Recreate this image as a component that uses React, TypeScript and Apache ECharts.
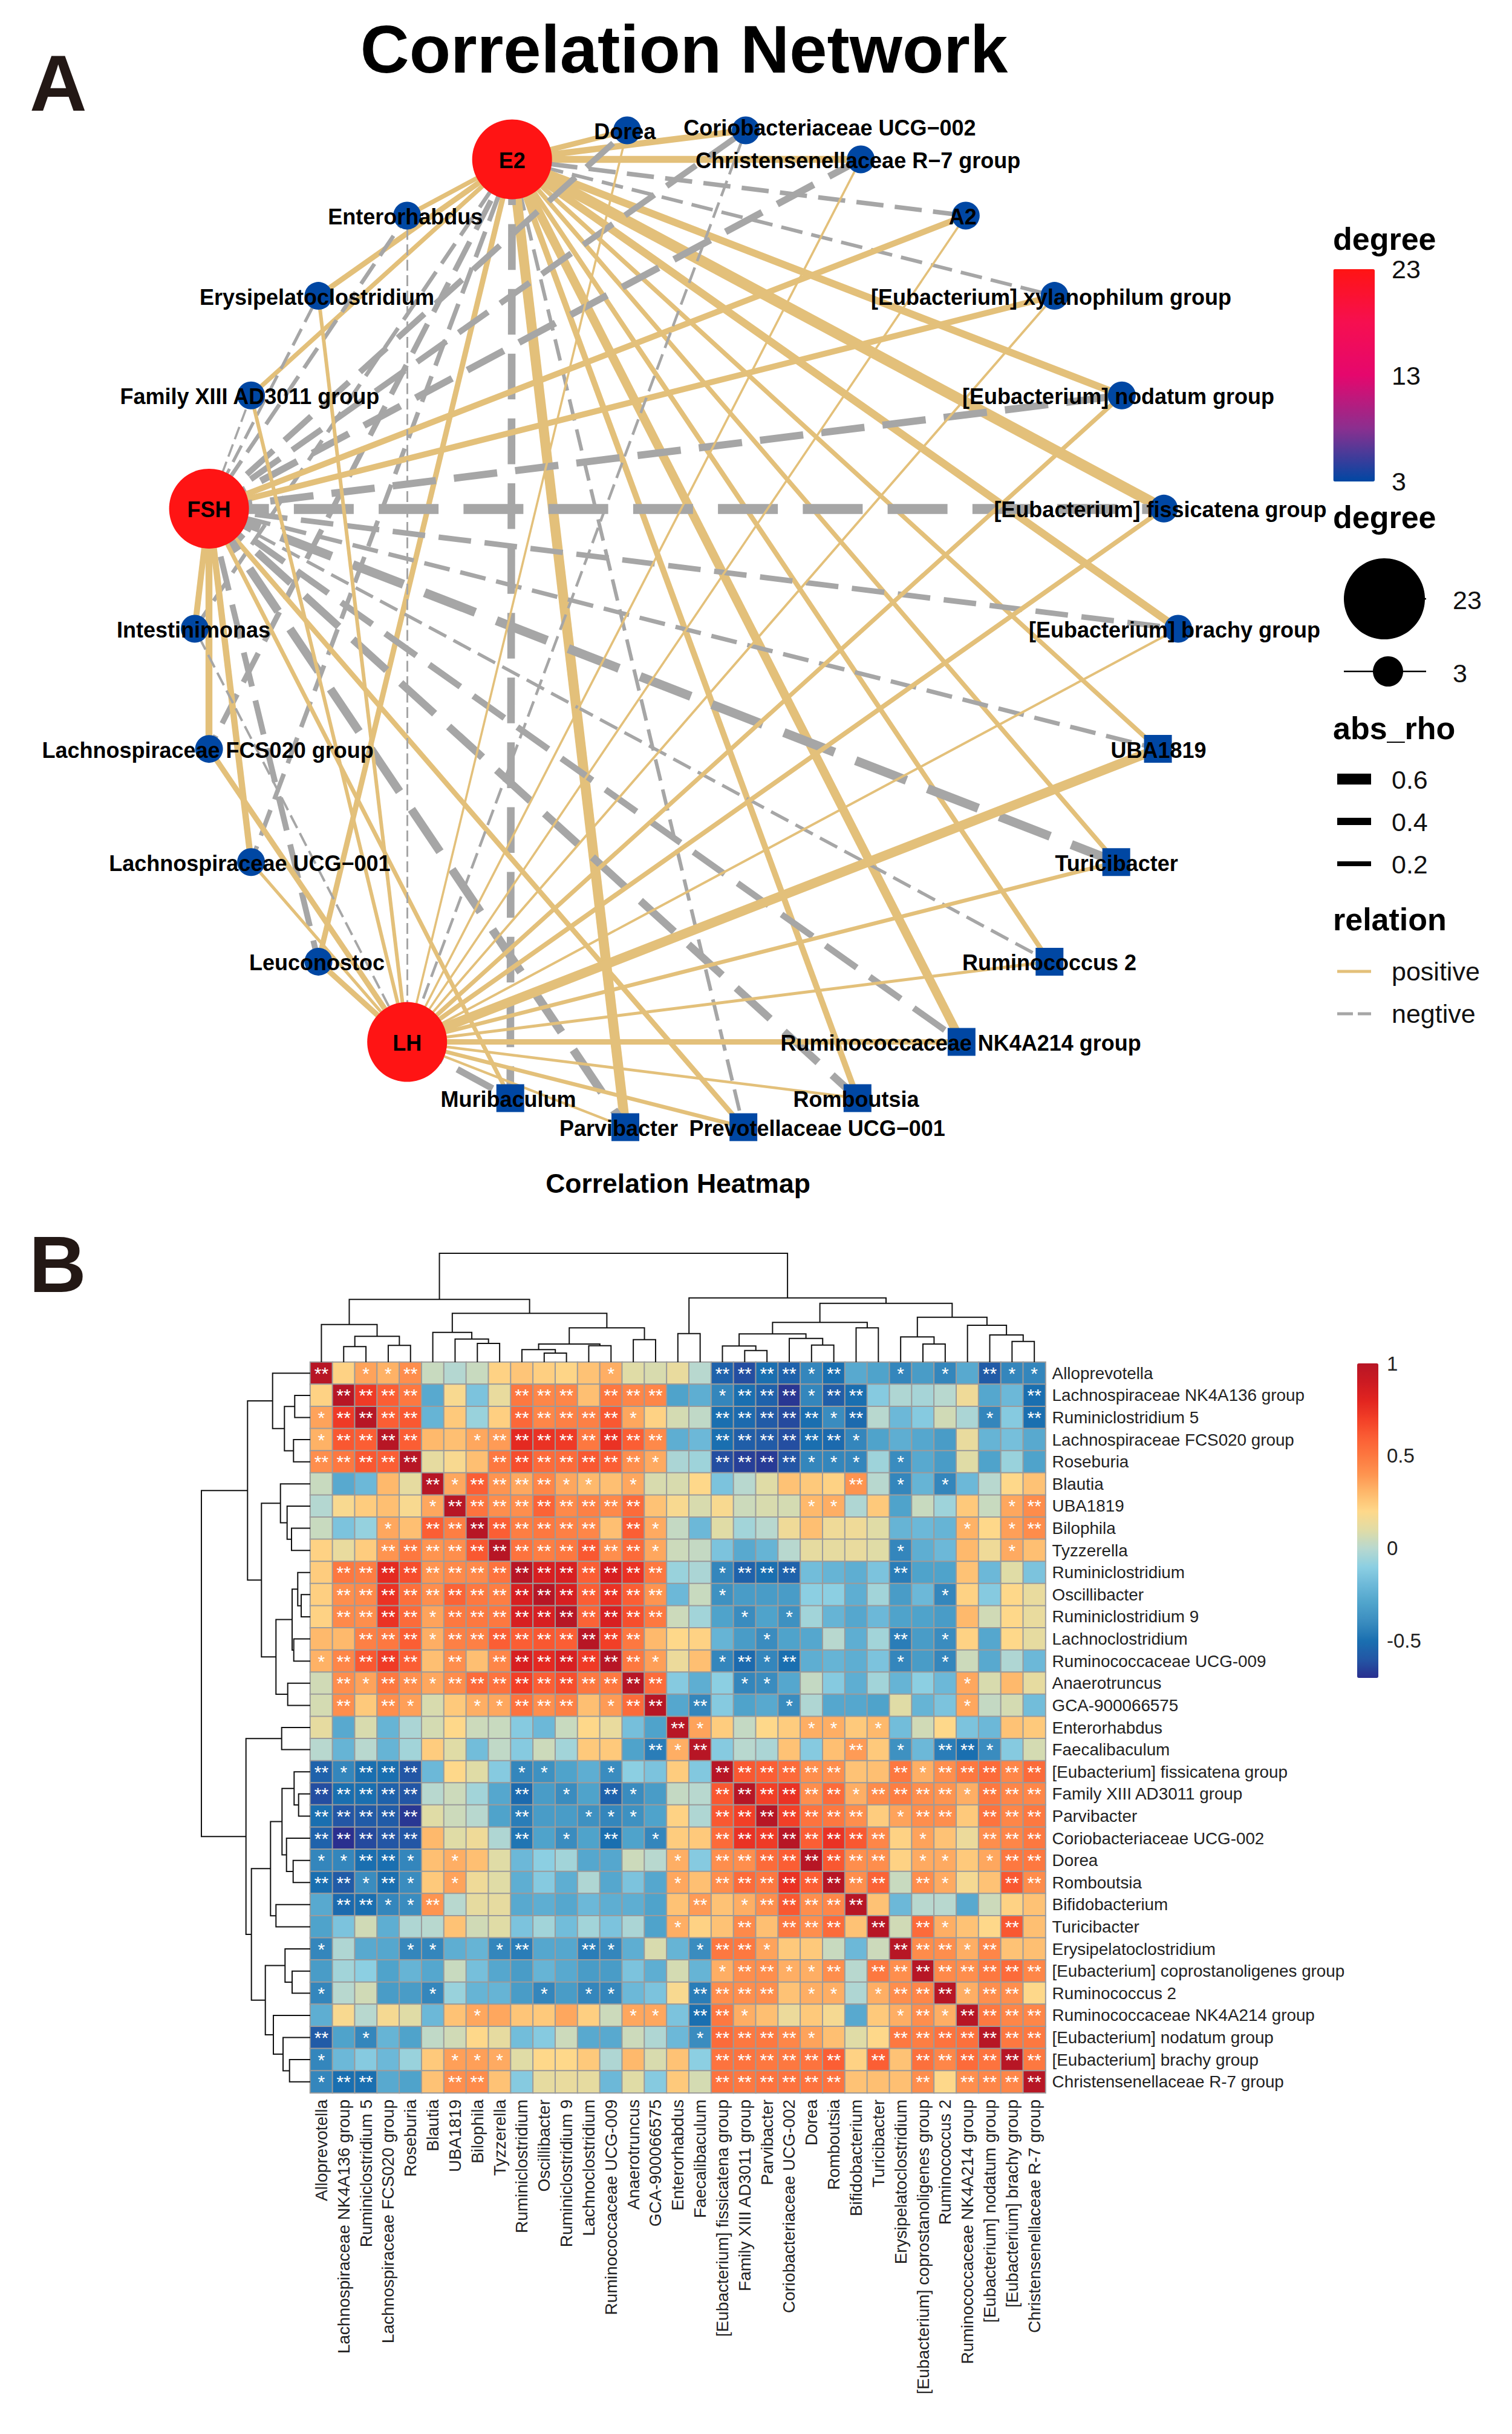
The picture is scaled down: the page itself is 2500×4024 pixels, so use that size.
import React, { useEffect, useRef } from "react";
import * as echarts from "echarts";

const FONT = "'Liberation Sans', Arial, sans-serif";

/* ---------- network data ---------- */
const ringOrder = [
  "E2", "Dorea", "Coriobacteriaceae UCG−002", "Christensenellaceae R−7 group", "A2",
  "[Eubacterium] xylanophilum group", "[Eubacterium] nodatum group", "[Eubacterium] fissicatena group",
  "[Eubacterium] brachy group", "UBA1819", "Turicibacter", "Ruminococcus 2",
  "Ruminococcaceae NK4A214 group", "Romboutsia", "Prevotellaceae UCG−001", "Parvibacter", "Muribaculum",
  "LH", "Leuconostoc", "Lachnospiraceae UCG−001", "Lachnospiraceae FCS020 group", "Intestinimonas",
  "FSH", "Family XIII AD3011 group", "Erysipelatoclostridium", "Enterorhabdus",
];
const hubs = ["E2", "FSH", "LH"];
const squareNodes = ["UBA1819", "Turicibacter", "Ruminococcus 2", "Ruminococcaceae NK4A214 group", "Romboutsia", "Prevotellaceae UCG−001", "Parvibacter", "Muribaculum"];
const outerNodes = ringOrder.filter((n) => !hubs.includes(n));
/* signed rho in the order of outerNodes */
const rhoE2 = [0.3, 0.35, 0.38, -0.25, -0.2, 0.4, 0.6, 0.42, 0.25, 0.25, 0.27, 0.48, 0.33, -0.2, 0.55, -0.42, 0.3, -0.25, -0.3, -0.22, 0.25, 0.3, 0.25];
const rhoFSH = [-0.33, -0.33, -0.38, 0.33, 0.33, -0.4, -0.55, -0.3, -0.24, -0.5, -0.18, -0.35, -0.42, 0.28, -0.47, 0.23, -0.32, 0.35, 0.38, 0.33, -0.12, -0.17, -0.22];
const rhoLH = [0.12, -0.15, 0.12, 0.12, 0.13, 0.24, 0.26, 0.13, 0.52, 0.22, 0.17, 0.3, 0.15, 0.22, 0.14, -0.37, 0.3, 0.17, 0.3, -0.13, 0.2, 0.2, -0.1];

/* ---------- heatmap data ---------- */
const taxa = [
  "Alloprevotella", "Lachnospiraceae NK4A136 group", "Ruminiclostridium 5", "Lachnospiraceae FCS020 group", "Roseburia",
  "Blautia", "UBA1819", "Bilophila", "Tyzzerella", "Ruminiclostridium", "Oscillibacter", "Ruminiclostridium 9",
  "Lachnoclostridium", "Ruminococcaceae UCG-009", "Anaerotruncus", "GCA-900066575", "Enterorhabdus", "Faecalibaculum",
  "[Eubacterium] fissicatena group", "Family XIII AD3011 group", "Parvibacter", "Coriobacteriaceae UCG-002", "Dorea",
  "Romboutsia", "Bifidobacterium", "Turicibacter", "Erysipelatoclostridium", "[Eubacterium] coprostanoligenes group",
  "Ruminococcus 2", "Ruminococcaceae NK4A214 group", "[Eubacterium] nodatum group", "[Eubacterium] brachy group",
  "Christensenellaceae R-7 group",
];
const corr = [
  [1, .22, .36, .32, .42, .04, -.01, .04, .22, .26, .23, .21, .27, .33, .1, .08, .13, 0, -.55, -.62, -.5, -.55, -.42, -.5, -.27, -.3, -.42, -.33, -.42, -.27, -.58, -.42, -.42],
  [.22, 1, .72, .6, .5, -.27, .18, -.15, .13, .5, .45, .45, .28, .5, .45, .45, -.3, -.25, -.42, -.5, -.55, -.68, -.42, -.57, -.5, -.12, -.02, -.04, 0, .15, -.28, -.2, -.5],
  [.36, .72, 1, .6, .62, -.22, .25, -.07, .23, .56, .45, .47, .47, .62, .35, .22, .07, .02, -.5, -.52, -.58, -.63, -.5, -.4, -.52, 0, -.2, -.12, .06, -.03, -.42, -.12, -.5],
  [.32, .62, .6, 1, .6, .3, .28, .35, .38, .78, .75, .72, .5, .75, .6, .44, -.25, -.2, -.5, -.57, -.58, -.62, -.5, -.52, -.42, -.3, -.25, -.28, -.33, .13, -.22, -.17, -.27],
  [.42, .5, .62, .6, 1, .12, .18, .28, .5, .65, .55, .55, .62, .6, .42, .34, -.03, -.06, -.62, -.66, -.67, -.6, -.42, -.42, -.42, -.06, -.4, -.27, -.33, .1, -.3, -.07, -.3],
  [.04, -.27, -.2, .3, .12, 1, .35, .6, .4, .35, .45, .35, .3, .28, .35, .08, .08, .2, -.15, 0, .1, .27, .25, .22, .4, 0, -.42, -.22, -.42, -.2, 0, .2, .27],
  [-.01, .18, .24, .28, .18, .35, 1, .52, .42, .42, .58, .44, .47, .44, .55, .27, .18, .08, .18, .05, .08, .07, .3, .33, -.02, .25, -.3, .04, -.06, .25, .04, .35, .43],
  [.04, -.15, -.08, .35, .28, .6, .48, 1, .6, .48, .5, .47, .45, .28, .6, .34, .03, -.2, .1, -.05, 0, .15, .28, .15, .15, .1, -.22, -.2, -.22, .32, .2, .37, .43],
  [.22, .13, .24, .4, .5, .4, .42, .62, 1, .52, .48, .5, .62, .42, .55, .35, .05, .03, -.15, -.27, -.22, 0, .12, .12, .13, .1, -.42, -.25, -.2, .3, .15, .34, .28],
  [.24, .5, .48, .78, .65, .4, .44, .44, .52, 1, .85, .85, .6, .85, .75, .5, -.07, -.03, -.42, -.55, -.5, -.55, -.18, -.22, -.25, -.15, -.45, -.3, -.3, .27, -.2, .1, -.15],
  [.23, .42, .44, .75, .53, .42, .58, .5, .48, .85, 1, .85, .6, .75, .6, .4, -.2, .04, -.38, -.33, -.33, -.33, -.1, -.1, -.25, -.05, -.33, -.2, -.42, .22, -.12, .2, .13],
  [.22, .44, .42, .75, .55, .36, .5, .5, .5, .85, .85, 1, .58, .85, .65, .5, .05, -.05, -.3, -.4, -.3, -.38, -.05, -.22, -.28, -.2, -.3, -.3, -.33, .3, .06, .2, .13],
  [.3, .3, .47, .5, .6, .33, .47, .47, .6, .6, .62, .6, 1, .7, .5, .3, .2, .22, -.22, -.33, -.4, -.3, -.28, 0, -.25, -.05, -.45, -.33, -.4, .22, -.28, .2, .12],
  [.32, .45, .62, .72, .6, .28, .42, .28, .45, .85, .78, .85, .72, 1, .5, .37, .14, .28, -.42, -.52, -.42, -.5, -.25, -.22, -.25, -.15, -.42, -.33, -.42, .05, -.27, -.02, -.2],
  [.06, .42, .36, .5, .42, .35, .43, .55, .52, .7, .6, .65, .5, .5, 1, .55, -.12, -.25, -.1, -.42, -.4, -.28, .03, -.12, -.25, -.05, -.22, -.1, -.2, .35, .08, .3, .12],
  [.07, .42, .25, .42, .37, .08, .25, .33, .35, .52, .42, .47, .28, .38, .55, 1, -.28, -.42, -.12, -.3, -.27, -.4, -.02, -.28, -.28, -.3, .1, -.22, -.15, .35, .03, .07, -.18],
  [.12, -.27, .08, -.22, -.03, .07, .2, .05, .04, -.12, -.2, .04, .2, .13, -.17, -.3, 1, .36, .24, .03, .2, .24, .33, .33, .25, .3, -.18, .06, .2, -.15, -.2, .27, .25],
  [0, -.22, 0, -.22, -.05, .24, .1, -.18, .02, -.12, .05, -.05, .25, .25, -.3, -.45, .33, 1, -.12, 0, -.03, .27, -.12, .28, .38, .25, -.38, -.2, -.45, -.5, -.4, -.12, .07],
  [-.55, -.42, -.5, -.5, -.6, -.2, .2, .1, -.12, -.42, -.38, -.3, -.25, -.4, -.1, -.15, .24, -.13, 1, .62, .6, .55, .42, .42, .27, .28, .5, .33, .42, .5, .55, .45, .55],
  [-.62, -.5, -.5, -.55, -.6, 0, .05, -.05, -.28, -.52, -.33, -.4, -.3, -.55, -.4, -.33, .03, 0, .62, 1, .7, .75, .42, .55, .33, .43, .48, .42, .4, .33, .5, .45, .45],
  [-.5, -.6, -.58, -.58, -.68, .1, .05, 0, -.3, -.45, -.33, -.33, -.38, -.42, -.38, -.3, .22, -.02, .62, .7, 1, .7, .52, .5, .42, .24, .36, .42, .42, .25, .52, .45, .5],
  [-.55, -.7, -.63, -.6, -.6, .3, .1, .15, -.02, -.48, -.3, -.4, -.3, -.5, -.3, -.42, .24, .25, .55, .75, .72, 1, .6, .75, .62, .45, .22, .36, .27, .14, .42, .45, .5],
  [-.42, -.42, -.5, -.5, -.42, .28, .33, .28, .1, -.2, -.1, -.05, -.28, -.28, .05, 0, .33, -.12, .42, .42, .55, .6, 1, .62, .42, .42, .22, .34, .34, .25, .35, .5, .5],
  [-.5, -.58, -.4, -.5, -.4, .25, .36, .15, .1, -.25, -.12, -.25, -.02, -.28, -.15, -.28, .35, .28, .42, .55, .5, .75, .6, 1, .42, .58, .04, .42, .34, .17, .27, .62, .43],
  [-.27, -.52, -.5, -.42, -.4, .4, 0, .12, .12, -.27, -.25, -.28, -.2, -.25, -.25, -.3, .27, .38, .27, .33, .42, .62, .42, .45, 1, .27, -.2, 0, 0, -.27, .05, .22, .27],
  [-.3, -.15, .06, -.25, -.02, 0, .27, .06, .1, -.15, -.05, -.18, -.05, -.15, -.03, -.3, .33, .22, .27, .44, .28, .5, .42, .55, .27, 1, .06, .55, .33, .27, .2, .62, .28],
  [-.42, -.02, -.27, -.28, -.42, -.42, -.25, -.22, -.42, -.45, -.28, -.28, -.45, -.42, -.25, .08, -.22, -.4, .5, .5, .36, .25, .25, .04, -.2, .05, 1, .43, .42, .33, .45, .27, .28],
  [-.33, -.05, -.1, -.3, -.22, -.28, .04, -.17, -.28, -.33, -.22, -.27, -.33, -.33, -.15, -.25, .07, -.22, .33, .42, .42, .33, .33, .42, 0, .5, .42, 1, .44, .42, .5, .55, .45],
  [-.42, 0, .06, -.33, -.33, -.42, -.07, -.22, -.22, -.33, -.42, -.33, -.42, -.42, -.2, -.15, .18, -.45, .42, .42, .42, .27, .33, .33, -.02, .33, .42, .45, 1, .33, .42, .42, .2],
  [-.25, .18, 0, .17, .1, -.2, .27, .35, .35, .26, .25, .35, .23, .05, .35, .35, -.15, -.5, .5, .33, .28, .14, .25, .17, -.27, .25, .33, .42, .33, 1, .5, .45, .45],
  [-.58, -.3, -.42, -.22, -.3, .02, .06, .2, .12, -.18, -.12, .05, -.27, -.27, .05, -.02, -.2, -.4, .55, .5, .5, .45, .36, .28, .1, .2, .5, .48, .52, .53, 1, .5, .5],
  [-.42, -.2, -.12, -.2, -.07, .25, .37, .37, .34, .1, .2, .2, .25, -.02, .3, .08, .27, -.1, .52, .52, .5, .5, .52, .6, .22, .6, .27, .53, .45, .55, .52, 1, .5],
  [-.42, -.5, -.5, -.27, -.3, .27, .42, .43, .27, -.12, .12, .13, .12, -.2, .1, -.12, .25, .07, .52, .5, .52, .52, .52, .52, .27, .28, .28, .42, .2, .42, .45, .45, 1],
];
/* number of significance asterisks per cell */
const starRows = [
  "20112000000 00100002222 12001010211",
  "02222000022 20222001222 12200000002",
  "12222000022 22210002222 21200000102",
  "12222001222 22222002222 22100000000",
  "22222000222 22221002222 11101000000",
  "00000212222 11010000000 00201010000",
  "00000122222 22220000000 11000000012",
  "00010222222 22021000000 00000001012",
  "00022222222 22221000000 00001000010",
  "02222222222 22222001222 00002000000",
  "02222222222 22222001000 00000010000",
  "02222122222 22222000101 00000000000",
  "00222122222 22220000010 00002010000",
  "12222020222 22221001212 00001010000",
  "02122122222 22222000110 00000001000",
  "02021001122 20122020001 00000001000",
  "00000000000 00000210000 11010000000",
  "00000000000 00002120000 00201022100",
  "21222000011 00100002222 22002122222",
  "22222000020 10210002222 22122221222",
  "22222000020 01110002222 22201220222",
  "22222000020 10201002222 22220100222",
  "11221010000 00000102222 22220110122",
  "22121010000 00000102222 22220210022",
  "02211200000 00000020122 22200000000",
  "00000000000 00000100202 22020210020",
  "10001100120 02100012210 00002221200",
  "00000000000 00000001221 12022222222",
  "10000100001 01100022220 11012221220",
  "00000001000 00011022100 00001212222",
  "20100000000 00000012222 10002222222",
  "10000011100 00000002222 22020222222",
  "12200022000 00000002222 22000202222",
];
const corrTicks = [1, 0.5, 0, -0.5];
const corrColors = [
  "#2a2f8f", "#2356a5", "#1a6fb0", "#3a8cbf", "#4fa3cb", "#6cb8d8", "#8ccfe2", "#b8d8cf", "#e0dca6",
  "#fed88a", "#feb96c", "#fe9450", "#fd7840", "#fb5e34", "#f23f27", "#e12420", "#cc1a22", "#b71625",
];
/* shared cluster tree: a leaf is a taxon index, a merge is [height, left, right] */
const clusterTree: any = [180,
  [103.7,
    [62.3, 0, [42.7, [25.7, 1, 2], [27.7, 3, 4]]],
    [80.7,
      [49.3, 5, [38.3, 6, [31, 7, 8]]],
      [56.7, [30, [20.7, 9, [15, 10, 11]], [27.3, 12, 13]], [37.3, 14, 15]],
    ],
  ],
  [106.3,
    [47.3, 16, 17],
    [97.3,
      [65.7, [46.7, [26.7, 18, [19.3, 19, 20]], [39.3, 21, [28.3, 22, 23]]], [56.7, 24, 25]],
      [74.3, [41.7, 26, [30, 27, 28]], [61, 29, [45, 30, [34.3, 31, 32]]]],
    ],
  ],
];

const degreeTicks = [23, 13, 3];
const degreeColors = ["#0047a3", "#8b2f8f", "#e5076d", "#f60f50", "#ff1414"];
const rhoLegend = [0.6, 0.4, 0.2];

/* ---------- helpers ---------- */
const ringAngle = (name: string) => ((-20.77 + (360 / ringOrder.length) * ringOrder.indexOf(name)) * Math.PI) / 180;
const squareShift = (name: string) =>
  squareNodes.includes(name) ? -3 - 7 * Math.max(0, Math.sin(ringAngle(name))) : 0;
const nodePos = (name: string) => {
  const a = ringAngle(name);
  return [1135 + 813 * Math.sin(a) + squareShift(name), 1039.5 - 830 * Math.cos(a)];
};
const edgeWidth = (rho: number) => Math.abs(rho) * 30;

const merges: number[][] = [];
const walkTree = (n: any): [number, number] => {
  if (typeof n === "number") return [n + 0.5, 0];
  const [lp, lh] = walkTree(n[1]);
  const [rp, rh] = walkTree(n[2]);
  merges.push([lp, rp, lh, rh, n[0]]);
  return [(lp + rp) / 2, n[0]];
};
walkTree(clusterTree);

const H_LEFT = 513, H_TOP = 2252, H_W = 1215.6, H_H = 1208;
const CB_TOP = 2254, CB_H = 520;
const DEG_TOP = 445, DEG_H = 351;

const txt = (text: string, x: number, y: number, fontSize: number, extra: any = {}) => ({
  type: "text",
  silent: true,
  style: { text, x, y, fontSize, fontFamily: FONT, fill: "#111", textVerticalAlign: "middle", ...extra },
});
const bold = { fontWeight: "bold", fill: "#000" };
const hline = (x1: number, x2: number, y: number, lineWidth: number, stroke: string, lineDash?: number[]) => ({
  type: "line",
  silent: true,
  shape: { x1, y1: y, x2, y2: y },
  style: { stroke, lineWidth, lineDash },
});

function buildOption() {
  const nodes = ringOrder.map((name) => {
    const isHub = hubs.includes(name);
    const [x, y] = nodePos(name);
    const sq = squareShift(name);
    const shift = -4 - 2 * Math.sin(ringAngle(name)) - (sq ? sq + 3 : 0);
    const nudge =
      name === "Coriobacteriaceae UCG−002" ? [139, -4]
      : name === "Prevotellaceae UCG−001" ? [119 + 3, 2]
      : name === "Parvibacter" ? [-14 + 3, 2]
      : [shift, 2];
    return {
      name,
      value: [x, y],
      symbol: squareNodes.includes(name) ? "rect" : "circle",
      symbolSize: isHub ? 132 : 46,
      itemStyle: { color: isHub ? degreeColors[4] : degreeColors[0], opacity: 1 },
      label: { offset: isHub ? [0, 2] : nudge },
    };
  });
  const links: any[] = [];
  const addHub = (hub: string, rhos: number[]) =>
    rhos.forEach((rho, i) => {
      const w = edgeWidth(rho);
      links.push({
        source: hub,
        target: outerNodes[i],
        lineStyle: rho > 0
          ? { color: "#e3c07a", width: w, type: "solid", opacity: 1 }
          : { color: "#a6a6a6", width: w, type: [w * 6, w * 2.5], opacity: 1 },
      });
    });
  addHub("E2", rhoE2);
  addHub("FSH", rhoFSH);
  addHub("LH", rhoLH);

  const heat: number[][] = [];
  const stars = starRows.map((s) => s.replace(/ /g, ""));
  corr.forEach((row, r) => row.forEach((v, c) => heat.push([c, r, v])));

  const dendro = (swap: boolean) => ({
    type: "custom",
    silent: true,
    clip: false,
    xAxisIndex: swap ? 3 : 2,
    yAxisIndex: swap ? 3 : 2,
    data: merges,
    renderItem: (_p: any, api: any) => {
      const [lp, rp, lh, rh, h] = [0, 1, 2, 3, 4].map((d) => api.value(d));
      const pts = [[lp, lh], [lp, h], [rp, h], [rp, rh]];
      return {
        type: "polyline",
        shape: { points: pts.map((p) => api.coord(swap ? [p[1], p[0]] : p)) },
        style: { stroke: "#111", lineWidth: 2, fill: null },
      };
    },
  });

  const graphic: any[] = [
    txt("A", 49, 137, 131, { fontWeight: "bold", fill: "#231815" }),
    txt("B", 48, 2090, 131, { fontWeight: "bold", fill: "#231815" }),
    txt("degree", 2204, 395, 52, bold),
    ...degreeTicks.map((d) => txt(String(d), 2301, DEG_TOP + ((23 - d) / 20) * DEG_H, 43)),
    ...degreeTicks.flatMap((d) => {
      const y = Math.min(Math.max(DEG_TOP + ((23 - d) / 20) * DEG_H, DEG_TOP + 1), DEG_TOP + DEG_H - 1);
      return [hline(2204.5, 2218, y, 1.5, "#fff"), hline(2259.5, 2273, y, 1.5, "#fff")];
    }),
    txt("degree", 2204, 855, 52, bold),
    hline(2222, 2358, 990, 2.5, "#000"),
    { type: "circle", silent: true, shape: { cx: 2289, cy: 990, r: 67 }, style: { fill: "#000" } },
    txt("23", 2402, 992, 43),
    hline(2222, 2358, 1110, 2.5, "#000"),
    { type: "circle", silent: true, shape: { cx: 2295, cy: 1110, r: 25 }, style: { fill: "#000" } },
    txt("3", 2402, 1113, 43),
    txt("abs_rho", 2204, 1204, 52, bold),
    ...rhoLegend.map((r, i) => hline(2211, 2267, 1288 + i * 70, [18, 12, 8][i], "#000")),
    ...rhoLegend.map((r, i) => txt(String(r), 2301, 1289 + i * 70, 43)),
    txt("relation", 2204, 1520, 52, bold),
    hline(2211, 2267, 1606, 5, "#e3c07a"),
    txt("positive", 2301, 1606, 43),
    hline(2211, 2267, 1676, 5, "#a6a6a6", [26, 8]),
    txt("negtive", 2301, 1676, 43),
    ...corrTicks.map((v) => txt(String(v), 2293, CB_TOP + ((1 - v) / 1.7) * CB_H, 33, { fill: "#222" })),
  ];

  const hidden = { show: false };
  return {
    animation: false,
    backgroundColor: "#fff",
    title: [
      { text: "Correlation Network", left: 1131, top: 25, padding: 0, textAlign: "center", textStyle: { fontFamily: FONT, fontSize: 112, fontWeight: "bold", color: "#000" } },
      { text: "Correlation Heatmap", left: 1121, top: 1934, padding: 0, textAlign: "center", textStyle: { fontFamily: FONT, fontSize: 44.5, fontWeight: "bold", color: "#000" } },
    ],
    grid: [
      { left: 0, top: 0, width: 2500, height: 2000 },
      { left: H_LEFT, top: H_TOP, width: H_W, height: H_H },
      { left: H_LEFT, top: H_TOP - 180, width: H_W, height: 180 },
      { left: H_LEFT - 179, top: H_TOP, width: 179, height: H_H },
    ],
    xAxis: [
      { type: "value", gridIndex: 0, min: 0, max: 2500, ...hidden },
      {
        type: "category", gridIndex: 1, data: taxa, position: "bottom",
        axisLine: hidden, axisTick: hidden, splitLine: hidden,
        axisLabel: { rotate: 90, interval: 0, margin: 11, fontSize: 28, fontFamily: FONT, color: "#222" },
      },
      { type: "value", gridIndex: 2, min: 0, max: 33, ...hidden },
      { type: "value", gridIndex: 3, min: 0, max: 179, inverse: true, ...hidden },
    ],
    yAxis: [
      { type: "value", gridIndex: 0, min: 0, max: 2000, inverse: true, ...hidden },
      {
        type: "category", gridIndex: 1, data: taxa, inverse: true, position: "right",
        axisLine: hidden, axisTick: hidden, splitLine: hidden,
        axisLabel: { interval: 0, margin: 11, fontSize: 27.8, fontFamily: FONT, color: "#222" },
      },
      { type: "value", gridIndex: 2, min: 0, max: 180, ...hidden },
      { type: "value", gridIndex: 3, min: 0, max: 33, inverse: true, ...hidden },
    ],
    visualMap: [
      {
        type: "continuous", seriesIndex: [], dimension: 2, min: 3, max: 23, left: 2204.5, top: DEG_TOP,
        itemWidth: 68.5, itemHeight: DEG_H, padding: 0, calculable: false, hoverLink: false, text: null, showLabel: false,
        inRange: { color: degreeColors },
      },
      {
        type: "continuous", seriesIndex: 1, dimension: 2, min: -0.7, max: 1, left: 2244, top: CB_TOP,
        itemWidth: 35, itemHeight: CB_H, padding: 0, calculable: false, hoverLink: false, text: null, showLabel: false,
        inRange: { color: corrColors },
      },
    ],
    series: [
      {
        type: "graph",
        coordinateSystem: "cartesian2d",
        xAxisIndex: 0,
        yAxisIndex: 0,
        layout: "none",
        silent: true,
        roam: false,
        data: nodes,
        links,
        edgeSymbol: ["none", "none"],
        lineStyle: { opacity: 1, curveness: 0 },
        label: { show: true, position: "inside", fontSize: 36, fontWeight: "bold", color: "#000", fontFamily: FONT },
        z: 3,
      },
      {
        type: "heatmap",
        xAxisIndex: 1,
        yAxisIndex: 1,
        silent: true,
        data: heat,
        itemStyle: { borderColor: "#9b9b9b", borderWidth: 2 },
        label: {
          show: true,
          color: "#fff",
          fontSize: 30,
          fontFamily: FONT,
          formatter: (p: any) => "*".repeat(Number(stars[p.value[1]][p.value[0]] || 0)),
        },
      },
      dendro(false),
      dendro(true),
    ],
    graphic,
  };
}

export default function App() {
  const ref = useRef<HTMLDivElement>(null);
  useEffect(() => {
    document.body.style.margin = "0";
    const chart = echarts.init(ref.current!, undefined, { renderer: "svg" });
    chart.setOption(buildOption() as any);
    return () => chart.dispose();
  }, []);
  return <div ref={ref} style={{ width: 2500, height: 4024, background: "#fff" }} />;
}
